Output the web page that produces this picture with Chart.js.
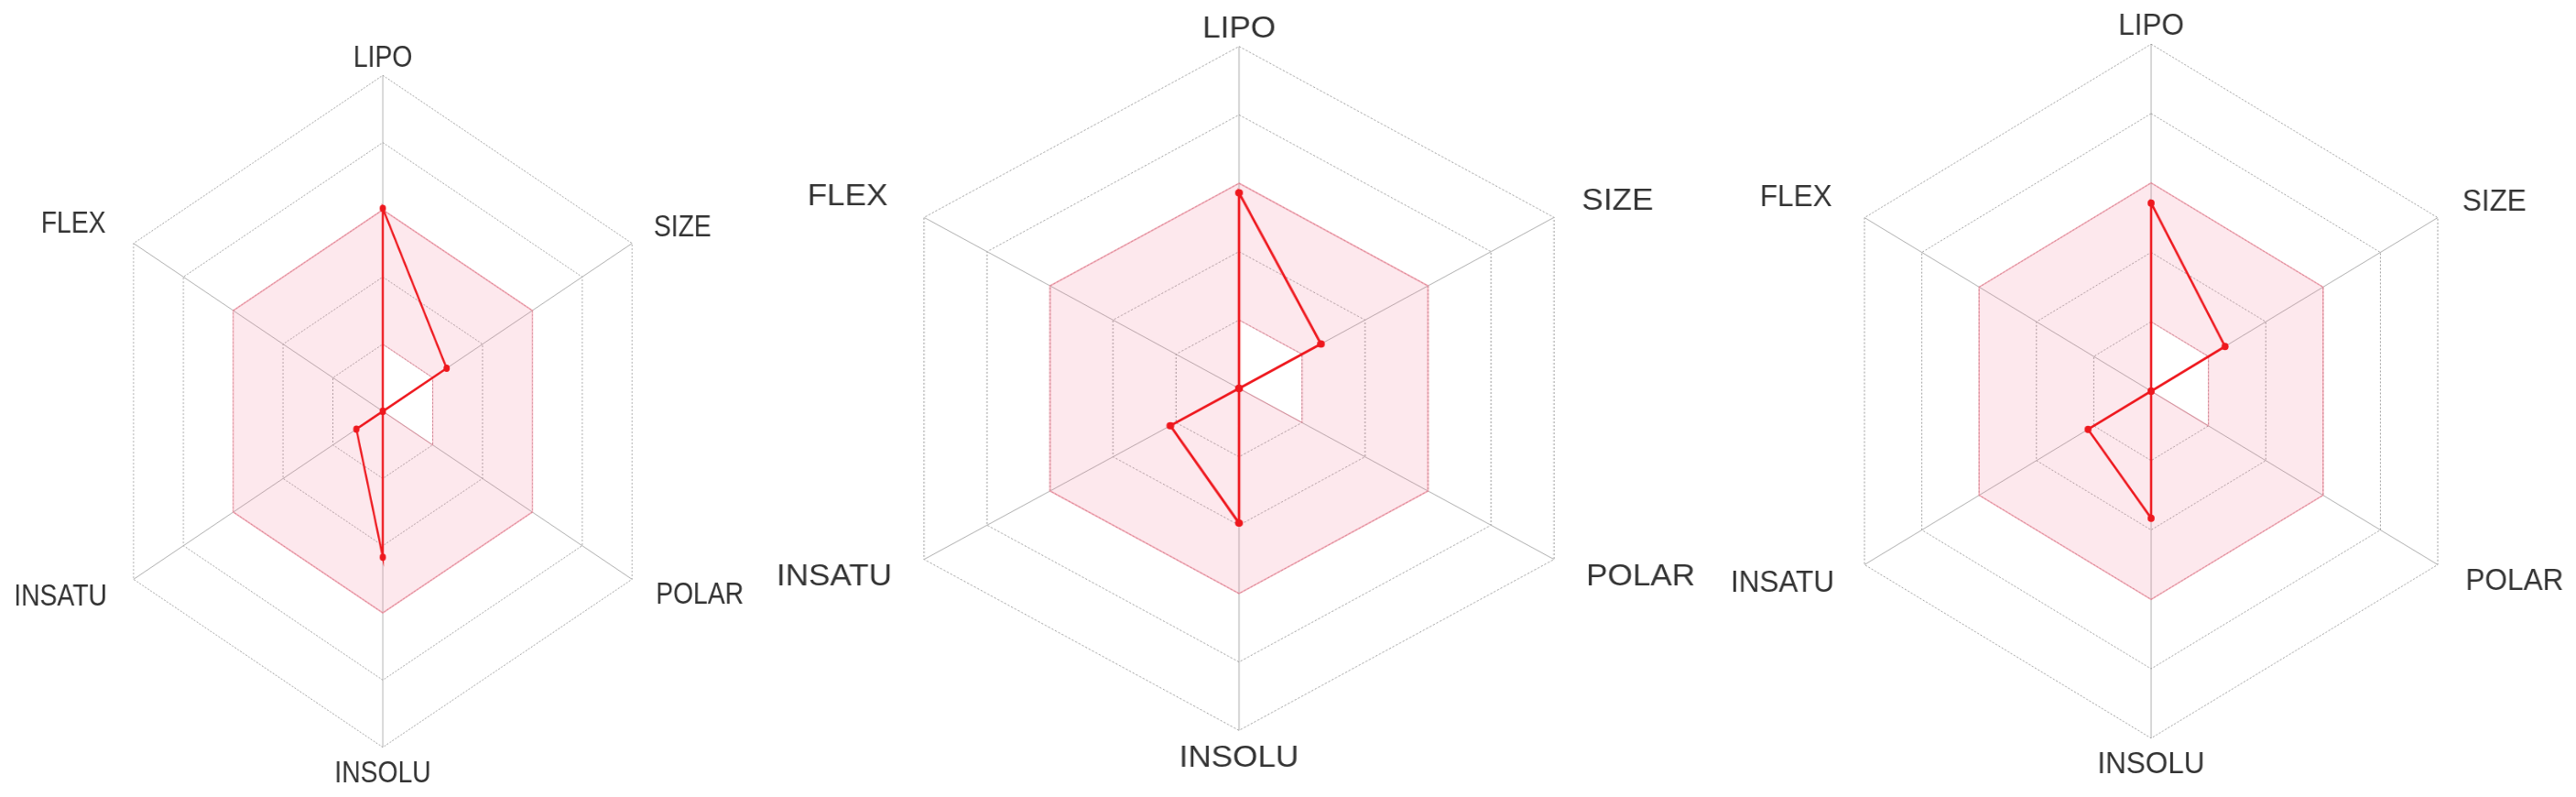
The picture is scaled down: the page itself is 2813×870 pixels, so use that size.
<!DOCTYPE html>
<html>
<head>
<meta charset="utf-8">
<script src="https://cdn.jsdelivr.net/npm/chart.js@4.4.1/dist/chart.umd.min.js"></script>
<style>
html, body { margin: 0; padding: 0; background: #ffffff; }
body { width: 2813px; height: 870px; overflow: hidden; position: relative; }
.panel { position: absolute; }
.panel canvas { display: block; }
</style>
</head>
<body>
<script>
// ---------- data ----------
const axisLabels = ['LIPO', 'SIZE', 'POLAR', 'INSOLU', 'INSATU', 'FLEX'];
const optimalUpper = [3, 3, 3, 3, 3, 3];
const optimalLower = [1, 1, 1, 0, 0, 0];
const compound1 = [3.02, 1.28, 0, 2.17, 0.53, 0];
const compound2 = [2.86, 1.30, 0, 1.97, 1.09, 0];
const compound3 = [2.71, 1.29, 0, 1.83, 1.10, 0];
const scaleMin = 0;
const scaleMax = 5;
const scaleStep = 1;

// ---------- layout (positions / sizes only) ----------
const LH_SIDE = 1;      // label line height (px) for side labels
const LH_END = 44;      // label line height (px) for top / bottom labels
const W = 1160;         // canvas width
const FONT_SIZE = 33;
const lineHeights = [LH_END, LH_SIDE, LH_SIDE, LH_END, LH_SIDE, LH_SIDE];
const panels = [
  { values: compound1, cx: 418,    cy: 449.3, r: 366.7, k: 0.857, pad: [-3.4, 32, 35, 7, 39, 41] },
  { values: compound2, cx: 1353,   cy: 424,   r: 373.3, k: 1.064, pad: [-3.0, 33, 38, 8.2, 38, 43] },
  { values: compound3, cx: 2349.3, cy: 427.2, r: 378.8, k: 0.954, pad: [-2.3, 32.5, 37, 7, 40, 43] }
];

panels.forEach((p, idx) => {
  let H = Math.round(2 * (p.r + p.pad[3] + LH_END));
  if (H % 2) H += 1;
  const pad = p.pad.slice();
  pad[3] = H / 2 - LH_END - p.r;            // exact radius after label fitting
  const yC = H / 2 + Math.floor(((pad[0] + LH_END) - (pad[3] + LH_END)) / 2);
  const xC = Math.floor(W / 2);

  const wrap = document.createElement('div');
  wrap.className = 'panel';
  wrap.style.left = (p.cx - xC) + 'px';
  wrap.style.top = (p.cy - yC) + 'px';
  wrap.style.width = W + 'px';
  wrap.style.height = H + 'px';
  wrap.style.transformOrigin = xC + 'px 0px';
  wrap.style.transform = 'scaleX(' + p.k + ')';
  const cv = document.createElement('canvas');
  cv.width = W;
  cv.height = H;
  wrap.appendChild(cv);
  document.body.appendChild(wrap);

  new Chart(cv.getContext('2d'), {
    type: 'radar',
    data: {
      labels: axisLabels,
      datasets: [
        {
          label: 'compound ' + (idx + 1),
          data: p.values,
          borderColor: 'rgb(238,24,30)',
          backgroundColor: 'rgb(238,24,30)',
          borderWidth: 2.6,
          pointRadius: 4,
          pointBorderWidth: 0,
          pointBackgroundColor: 'rgb(238,24,30)',
          fill: false
        },
        {
          label: 'optimal upper',
          data: optimalUpper,
          borderColor: 'rgba(240,120,140,0.6)',
          borderWidth: 1.5,
          backgroundColor: 'rgba(245,120,150,0.17)',
          pointRadius: 0,
          fill: '+1'
        },
        {
          label: 'optimal lower',
          data: optimalLower,
          borderColor: 'rgba(240,120,140,0.5)',
          borderWidth: 1.2,
          backgroundColor: 'rgba(0,0,0,0)',
          pointRadius: 0,
          fill: false
        }
      ]
    },
    options: {
      responsive: false,
      animation: false,
      layout: { padding: 0 },
      elements: { line: { tension: 0 } },
      plugins: {
        legend: { display: false },
        tooltip: { enabled: false }
      },
      scales: {
        r: {
          min: scaleMin,
          max: scaleMax,
          ticks: { display: false, stepSize: scaleStep },
          grid: { circular: false, color: 'rgba(130,130,130,0.8)', lineWidth: 1 },
          border: { dash: [2, 2] },
          angleLines: { display: true, color: 'rgba(160,160,160,0.85)', lineWidth: 1 },
          pointLabels: {
            display: true,
            color: '#333333',
            font: (ctx) => ({ family: 'Liberation Sans, Arial, sans-serif', size: FONT_SIZE, lineHeight: lineHeights[ctx.index] + 'px' }),
            padding: (ctx) => pad[ctx.index]
          }
        }
      }
    }
  });
});
</script>
</body>
</html>
